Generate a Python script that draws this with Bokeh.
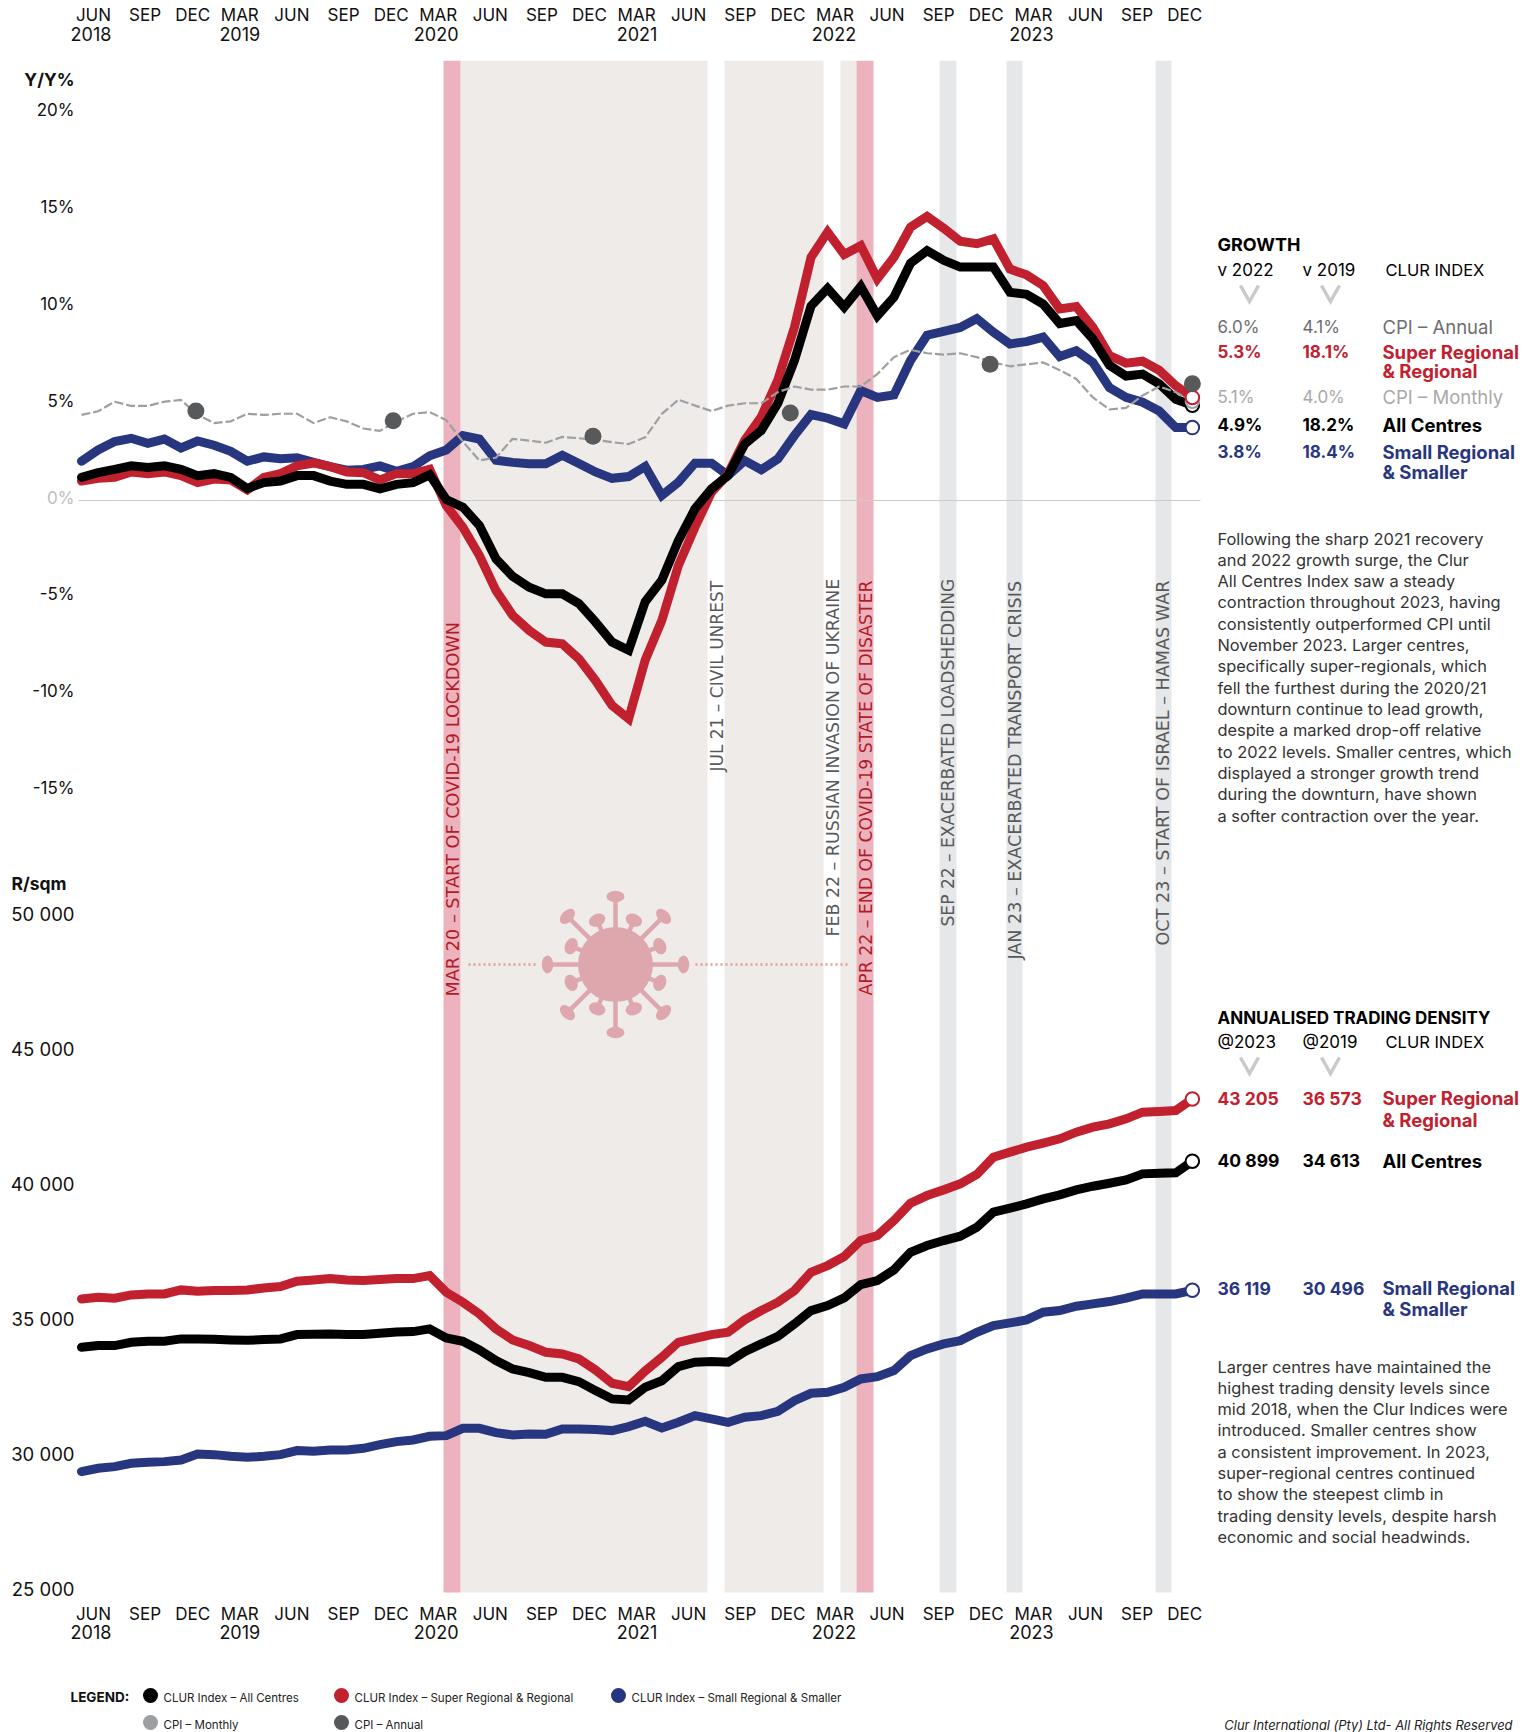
import numpy as np
from bokeh.plotting import figure
from bokeh.layouts import column, row
from bokeh.models import Range1d, LinearAxis, FixedTicker
from bokeh.core.properties import value
from bokeh.embed import file_html
from bokeh.resources import INLINE

# ---------- data (68 monthly readings) ----------
GROWTH_ALL = [1.19,1.43,1.6,1.78,1.7,1.78,1.6,1.28,1.38,1.19,0.62,0.92,1.0,1.28,1.28,1.0,0.83,0.83,0.6,0.83,0.92,1.32,
              0.05,-0.34,-1.29,-3.0,-3.9,-4.46,-4.8,-4.8,-5.3,-6.25,-7.28,-7.7,-5.2,-4.1,-2.06,-0.43,0.6,1.29,2.9,3.6,5.0,7.2,
              10.0,10.9,9.95,11.0,9.5,10.45,12.2,12.85,12.35,12.0,12.0,12.0,10.7,10.6,10.1,9.1,9.25,8.3,6.95,6.4,6.5,6.0,5.2,4.9]
GROWTH_SUPER = [1.0,1.14,1.19,1.47,1.38,1.47,1.28,0.92,1.1,1.06,0.55,1.19,1.38,1.78,1.93,1.74,1.47,1.43,1.06,1.38,1.38,1.6,
                -0.26,-1.37,-2.83,-4.63,-5.9,-6.68,-7.28,-7.37,-8.14,-9.25,-10.54,-11.22,-8.2,-6.17,-3.34,-1.37,0.43,1.37,3.1,4.3,6.2,8.9,
                12.5,13.8,12.65,13.1,11.4,12.5,14.05,14.6,14.0,13.33,13.2,13.45,11.9,11.6,11.05,9.85,9.97,8.9,7.45,7.06,7.16,6.7,5.9,5.3]
GROWTH_SMALL = [2.02,2.6,3.03,3.2,2.94,3.16,2.7,3.06,2.84,2.53,2.02,2.24,2.15,2.2,1.96,1.74,1.56,1.6,1.78,1.5,1.74,2.3,
                2.6,3.34,3.16,2.07,1.96,1.89,1.89,2.33,1.9,1.47,1.14,1.23,1.75,0.26,0.94,1.92,1.92,1.29,2.05,1.58,2.14,3.34,
                4.42,4.23,3.94,5.65,5.3,5.43,7.2,8.5,8.7,8.9,9.35,8.65,8.05,8.17,8.4,7.4,7.7,7.1,5.8,5.3,5.05,4.6,3.75,3.75]
CPI_MONTHLY = [4.4,4.59,5.08,4.86,4.86,5.08,5.17,4.4,3.98,4.07,4.46,4.4,4.46,4.46,3.98,4.28,4.07,3.7,3.58,4.07,4.46,4.55,
               4.13,3.03,2.06,2.2,3.17,3.08,2.97,3.27,3.2,3.12,3.0,2.9,3.25,4.45,5.18,4.88,4.6,4.88,5.0,5.0,5.57,5.86,
               5.7,5.7,5.86,5.86,6.5,7.37,7.75,7.57,7.5,7.57,7.37,7.1,6.9,7.0,7.1,6.7,6.25,5.3,4.68,4.76,5.4,5.86,5.57,5.1]
CPI_ANNUAL_MONTH = [6.9, 18.8, 30.85, 42.75, 54.8, 67]
CPI_ANNUAL = [4.6, 4.1, 3.3, 4.5, 7.0, 6.0]

DENSITY_ALL = [34009,34071,34071,34194,34231,34231,34318,34318,34305,34281,34268,34293,34318,34478,34491,34503,34478,34478,34528,34577,34589,34688,
               34355,34231,33910,33515,33206,33070,32897,32897,32737,32403,32095,32058,32530,32770,33293,33453,33478,33453,33848,34132,34417,34873,
               35367,35553,35837,36331,36480,36874,37529,37776,37961,38122,38455,39011,39159,39320,39505,39653,39838,39974,40085,40209,40431,40456,40468,40899]
DENSITY_SUPER = [35800,35861,35824,35948,35985,35985,36133,36084,36109,36109,36133,36207,36257,36454,36504,36553,36504,36479,36516,36553,36553,36664,
                 36047,35676,35244,34688,34281,34071,33824,33762,33577,33169,32675,32552,33130,33639,34194,34342,34478,34565,35022,35367,35676,36109,
                 36788,37035,37368,37961,38146,38702,39344,39628,39838,40061,40407,41049,41234,41419,41567,41728,41975,42160,42284,42469,42716,42741,42778,43205]
DENSITY_SMALL = [29403,29526,29588,29711,29748,29773,29835,30057,30032,29971,29933,29971,30032,30181,30156,30205,30205,30267,30403,30514,30576,30712,
                 30736,31008,31008,30847,30761,30798,30786,30983,30983,30959,30922,31070,31267,31020,31230,31477,31354,31230,31415,31477,31638,32033,
                 32305,32342,32527,32836,32922,33145,33700,33947,34132,34256,34565,34812,34911,35022,35306,35367,35528,35615,35701,35825,35985,35985,35985,36119]

QUARTERS = ["JUN","SEP","DEC","MAR","JUN","SEP","DEC","MAR","JUN","SEP","DEC","MAR",
            "JUN","SEP","DEC","MAR","JUN","SEP","DEC","MAR","JUN","SEP","DEC"]
YEARS = {0: "2018", 3: "2019", 7: "2020", 11: "2021", 15: "2022", 19: "2023"}
PCT_TICKS = [-15,-10,-5,0,5,10,15,20]
DENSITY_TICKS = [25000,30000,35000,40000,45000,50000]

BEIGE_BANDS = [(460,707),(724,823),(840,856)]
PINK_BANDS = [(443,460),(856,873)]
GREY_BANDS = [(939,956),(1006,1022),(1155,1171)]

EVENTS = [("MAR 20 – START OF COVID-19 LOCKDOWN",452,996,"red",17.7),
          ("JUL 21 – CIVIL UNREST",716,771,"grey",17.0),
          ("FEB 22 – RUSSIAN INVASION OF UKRAINE",832,936,"grey",17.4),
          ("APR 22 – END OF COVID-19 STATE OF DISASTER",865,995,"red",17.3),
          ("SEP 22 – EXACERBATED LOADSHEDDING",947,926,"grey",17.1),
          ("JAN 23 – EXACERBATED TRANSPORT CRISIS",1014,959,"grey",17.55),
          ("OCT 23 – START OF ISRAEL – HAMAS WAR",1162,945,"grey",17.6)]

PARA_GROWTH = ["Following the sharp 2021 recovery","and 2022 growth surge, the Clur","All Centres Index saw a steady",
               "contraction throughout 2023, having","consistently outperformed CPI until","November 2023. Larger centres,",
               "specifically super-regionals, which","fell the furthest during the 2020/21","downturn continue to lead growth,",
               "despite a marked drop-off relative","to 2022 levels. Smaller centres, which","displayed a stronger growth trend",
               "during the downturn, have shown","a softer contraction over the year."]
PARA_DENSITY = ["Larger centres have maintained the","highest trading density levels since","mid 2018, when the Clur Indices were",
                "introduced. Smaller centres show","a consistent improvement. In 2023,","super-regional centres continued",
                "to show the steepest climb in","trading density levels, despite harsh","economic and social headwinds."]

# ---------- style / layout ----------
RED, BLUE, BLACK = "#C1202F", "#28367F", "#000000"
CPI_M, CPI_A = "#9D9FA2", "#58595B"
PINK, BEIGE, GREY = "#ECB3BE", "#EEEBE8", "#E6E7E8"
VIRUS = "#DEA7AE"
FONT = "Inter"
EVENT_FONT = "DejaVu Sans"

STEP = 16.58; X0 = 81.0
ZERO_Y = 500.0; PX_PCT = 19.45
D40_Y = 1185.0; PX_D = 0.027
F_L, F_R, F_T, F_B = 0, 1210, 60, 1600     # frame edges on the page
BAND_TOP, BAND_BOTTOM = 60, 1592
TOP_H = 1660; W = 1530; H = 1732

def pct_at(y): return (ZERO_Y - y) / PX_PCT
def dens_at(y): return 40000 + (D40_Y - y) / PX_D
def month_at(x): return (x - X0) / STEP

months = list(range(len(GROWTH_ALL)))

p = figure(width=F_R - F_L, height=TOP_H, output_backend="svg", toolbar_location=None,
           x_range=Range1d(month_at(F_L), month_at(F_R)), y_range=Range1d(pct_at(F_B), pct_at(F_T)),
           min_border_left=0, min_border_right=0, min_border_top=F_T, min_border_bottom=TOP_H - F_B,
           x_axis_type=None, y_axis_type=None, outline_line_color=None, background_fill_color=None)
p.grid.visible = False
p.extra_y_ranges = {"density": Range1d(dens_at(F_B), dens_at(F_T)), "py": Range1d(F_B, F_T)}
p.extra_x_ranges = {"px": Range1d(F_L, F_R)}
px = dict(x_range_name="px", y_range_name="py")

# axes: a month row and a year row; labels are centred, so ticks sit half a label left of the shared right edge
HALF = {"JUN": 18, "SEP": 16, "DEC": 18, "MAR": 20.5}
YEAR_HALF = {0: 20.5, 3: 20.5, 7: 22.5, 11: 20, 15: 21.5, 19: 22.5}
month_px = [111 + 49.6 * k - HALF[q] for k, q in enumerate(QUARTERS)]
year_px = [111 + 49.6 * k - YEAR_HALF[k] for k in YEARS]
def x_axis(ticks, names, standoff, size):
    return LinearAxis(x_range_name="px", ticker=FixedTicker(ticks=ticks),
                      major_label_overrides=dict(zip(ticks, names)),
                      major_tick_in=0, major_tick_out=0, minor_tick_in=0, minor_tick_out=0, axis_line_color=None,
                      major_label_text_font=FONT, major_label_text_font_size=size, major_label_text_color="#111111",
                      major_label_standoff=standoff, major_label_orientation="horizontal")
p.add_layout(x_axis(year_px, list(YEARS.values()), 20, "18px"), "above")
p.add_layout(x_axis(month_px, QUARTERS, -1, "17px"), "above")
p.add_layout(x_axis(month_px, QUARTERS, 3, "17px"), "below")
p.add_layout(x_axis(year_px, list(YEARS.values()), -2, "18px"), "below")

# bands
for bands, c in ((BEIGE_BANDS, BEIGE), (GREY_BANDS, GREY), (PINK_BANDS, PINK)):
    p.quad(left=[b[0] for b in bands], right=[b[1] for b in bands], top=BAND_TOP, bottom=BAND_BOTTOM,
           fill_color=c, line_color=None, **px)

# zero line
p.line([X0 - 3, 1200], [ZERO_Y, ZERO_Y], line_color="#CCCCCC", line_width=1.2, **px)

# virus
cx, cy = 615, 964
ang_long = np.deg2rad(np.arange(0, 360, 45))
ang_short = ang_long + np.deg2rad(22.5)
for angs, r0, r1, rw, rh in ((ang_long, 34, 68, 18, 11.5), (ang_short, 34, 48, 17, 12.5)):
    p.multi_line([[cx + r0 * np.cos(a1), cx + r1 * np.cos(a1)] for a1 in angs],
                 [[cy + r0 * np.sin(a1), cy + r1 * np.sin(a1)] for a1 in angs],
                 line_color=VIRUS, line_width=4.5, **px)
    p.ellipse(cx + r1 * np.cos(angs), cy + r1 * np.sin(angs), width=rw, height=rh, angle=-(angs + np.pi / 2),
              fill_color=VIRUS, line_color=None, **px)
p.scatter([cx], [cy], size=75, marker="circle", fill_color=VIRUS, line_color=None, **px)
for a1, b1 in ((468, 535), (695, 850)):
    p.line([a1, b1], [cy, cy], line_color="#E09E90", line_width=2.4, line_dash="2 3", **px)

# series
for ys, c, rng in ((GROWTH_SMALL, BLUE, "default"), (GROWTH_SUPER, RED, "default"), (GROWTH_ALL, BLACK, "default"),
                   (DENSITY_SMALL, BLUE, "density"), (DENSITY_SUPER, RED, "density"), (DENSITY_ALL, BLACK, "density")):
    p.line(months, ys, line_color=c, line_width=9, line_join="miter", line_cap="round", y_range_name=rng)
p.line(months, CPI_MONTHLY, line_color=CPI_M, line_width=2.2, line_dash="9 3")

# rings
for ys, c, rng in ((GROWTH_SMALL, BLUE, "default"), (GROWTH_ALL, BLACK, "default"), (CPI_MONTHLY, CPI_M, "default"),
                   (GROWTH_SUPER, RED, "default"),
                   (DENSITY_SMALL, BLUE, "density"), (DENSITY_ALL, BLACK, "density"), (DENSITY_SUPER, RED, "density")):
    p.scatter([months[-1]], [ys[-1]], size=13.5, marker="circle", fill_color="white", line_color=c, line_width=2, y_range_name=rng)
p.scatter(CPI_ANNUAL_MONTH, CPI_ANNUAL, size=17, marker="circle", fill_color=CPI_A, line_color=None)

# event labels
EVENT_COL = {"red": "#B01C26", "grey": "#58595B"}
for txt, x, y, k, sz in EVENTS:
    p.text([x], [y], text=[txt], angle=np.pi / 2, text_font=value(EVENT_FONT), text_font_size=f"{sz}px",
           text_color=EVENT_COL[k], text_align="left", text_baseline="middle", **px)

def put(fig, x, y, t, color="#000000", size=17, style="normal", align="left", **kw):
    fig.text([x], [y], text=[t], text_color=color, text_font=value(FONT), text_font_size=f"{size}px",
             text_font_style=style, text_align=align, text_baseline="middle", **kw)

# value labels of both panels
for t in PCT_TICKS:
    put(p, 74, 497 - 19.36 * t, f"{t}%", "#BDBEC0" if t == 0 else "#111111", 17, align="right", **px)
for t in DENSITY_TICKS:
    put(p, 74, 1183.5 + (40000 - t) * PX_D, f"{t // 1000} 000", "#111111", 18.5, align="right", **px)
put(p, 74, 78.5, "Y/Y%", "#111111", 17.5, "bold", "right", **px)
put(p, 11, 882.5, "R/sqm", "#111111", 17.5, "bold", **px)

# ---------- side panel ----------
s = figure(width=W - F_R, height=TOP_H, output_backend="svg", toolbar_location=None,
           x_range=Range1d(F_R, W), y_range=Range1d(F_B, F_T), min_border_left=0, min_border_right=0,
           min_border_top=F_T, min_border_bottom=TOP_H - F_B,
           x_axis_type=None, y_axis_type=None, outline_line_color=None)
s.grid.visible = False

C1, C2, C3, C4 = 1217, 1302, 1382, 1385
GROWTH_TABLE = [(326, "6.0%", "4.1%", "CPI – Annual", "#6D6E71", "normal"),
                (351, "5.3%", "18.1%", "Super Regional", RED, "bold"),
                (370.5, "", "", "& Regional", RED, "bold"),
                (396, "5.1%", "4.0%", "CPI – Monthly", "#A7A9AC", "normal"),
                (424, "4.9%", "18.2%", "All Centres", "#000000", "bold"),
                (451.5, "3.8%", "18.4%", "Small Regional", BLUE, "bold"),
                (471.5, "", "", "& Smaller", BLUE, "bold")]
DENSITY_TABLE = [(1097.5, "43 205", "36 573", "Super Regional", RED),
                 (1119.5, "", "", "& Regional", RED),
                 (1160, "40 899", "34 613", "All Centres", "#000000"),
                 (1287.5, "36 119", "30 496", "Small Regional", BLUE),
                 (1308.5, "", "", "& Smaller", BLUE)]

put(s, C1, 244, "GROWTH", size=18, style="bold")
put(s, C1, 269.5, "v 2022", size=17); put(s, C2, 269.5, "v 2019", size=17); put(s, C4, 269.5, "CLUR INDEX", size=16.5)
for y, a1, b1, c1, col, st in GROWTH_TABLE:
    put(s, C1, y, a1, col, 17, st); put(s, C2, y, b1, col, 17, st); put(s, C3, y, c1, col, 18.5, st)
put(s, C1, 1017, "ANNUALISED TRADING DENSITY", size=17, style="bold")
put(s, C1, 1041.5, "@2023", size=17); put(s, C2, 1041.5, "@2019", size=17); put(s, C4, 1041.5, "CLUR INDEX", size=16.5)
for y, a1, b1, c1, col in DENSITY_TABLE:
    put(s, C1, y, a1, col, 17.5, "bold"); put(s, C2, y, b1, col, 17.5, "bold"); put(s, C3, y, c1, col, 18.5, "bold")
for y0 in (285, 1057):
    for xc in (1249, 1330):
        s.line([xc - 9, xc, xc + 9], [y0, y0 + 16, y0], line_color="#C9CACC", line_width=3.5, line_join="miter")
for k, t in enumerate(PARA_GROWTH):
    put(s, C1, 538 + 21.33 * k, t, "#333333", 16.4)
for k, t in enumerate(PARA_DENSITY):
    put(s, C1, 1366 + 21.33 * k, t, "#333333", 16.4)

# ---------- legend ----------
l = figure(width=W, height=H - TOP_H, output_backend="svg", toolbar_location=None,
           x_range=Range1d(0, W), y_range=Range1d(H, TOP_H), min_border=0,
           x_axis_type=None, y_axis_type=None, outline_line_color=None)
l.grid.visible = False
put(l, 70, 1696, "LEGEND:", "#111111", 13.5, "bold")
for x, y, c, t in ((150, 1695, BLACK, "CLUR Index – All Centres"), (341, 1695, RED, "CLUR Index – Super Regional & Regional"),
                   (618, 1695, BLUE, "CLUR Index – Small Regional & Smaller"), (150, 1722, CPI_M, "CPI – Monthly"),
                   (341, 1722, CPI_A, "CPI – Annual")):
    l.scatter([x], [y], size=15, marker="circle", fill_color=c, line_color=None)
    put(l, x + 13, y + 2, t, "#222222", 11.5)
l.text([1512], [1725], text=["Clur International (Pty) Ltd- All Rights Reserved"], text_font=value(FONT),
       text_font_size="12.9px", text_font_style="italic", text_color="#222222", text_align="right", text_baseline="middle")

page = column(row(p, s), l)
open("out.html", "w").write(file_html(page, INLINE))
